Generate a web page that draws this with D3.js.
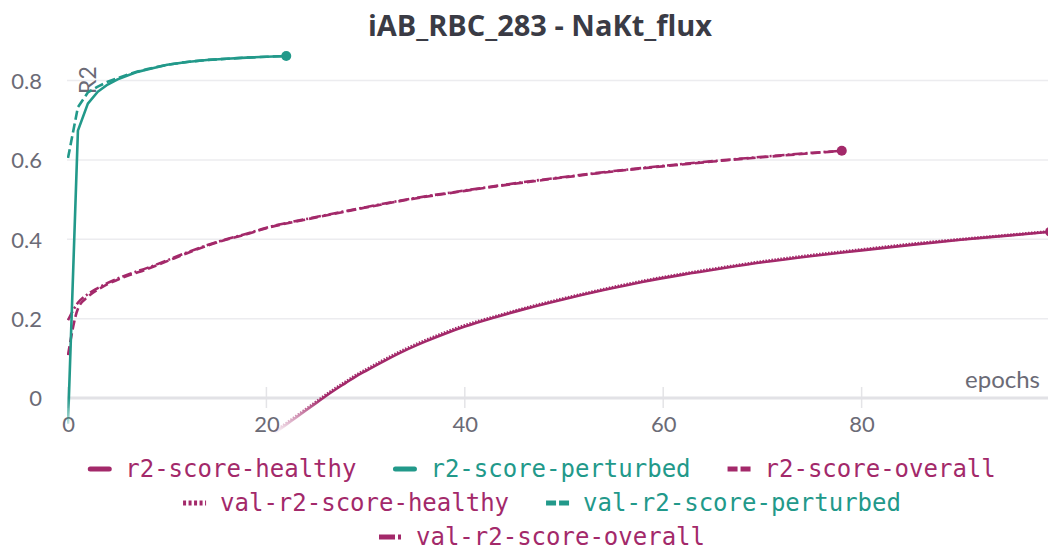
<!DOCTYPE html>
<html>
<head>
<meta charset="utf-8">
<script src="https://cdn.jsdelivr.net/npm/d3@7"></script>
<style>
html,body{margin:0;padding:0;background:#fff;}
svg{display:block;}
</style>
</head>
<body>
<svg id="chart" width="1048" height="550"></svg>
<script>
// ---- data ----
const title = "iAB_RBC_283 - NaKt_flux";
const xTicks = [0, 20, 40, 60, 80];
const yTicks = [0, 0.2, 0.4, 0.6, 0.8];
const yTickLabels = ["0", "0.2", "0.4", "0.6", "0.8"];

const healthyEpochs = [20,21,22,23,24,25,26,27,28,29,30,32,34,36,38,40,43,46,50,54,58,62,66,70,75,80,85,90,95,99];
const healthyTrain  = [-0.103,-0.085,-0.067,-0.049,-0.031,-0.013,0.005,0.022,0.038,0.054,0.068,0.095,0.120,0.142,0.162,0.180,0.203,0.224,0.249,0.272,0.293,0.311,0.327,0.342,0.358,0.372,0.386,0.399,0.410,0.419];
const healthyVal    = [-0.100,-0.082,-0.064,-0.046,-0.028,-0.010,0.008,0.025,0.041,0.057,0.071,0.098,0.123,0.145,0.165,0.183,0.205,0.226,0.251,0.274,0.295,0.313,0.329,0.344,0.360,0.374,0.388,0.400,0.411,0.420];

const perturbedEpochs = [0,1,2,3,4,5,6,7,8,10,12,14,16,18,20,22];
const perturbedTrain  = [-0.065,0.674,0.742,0.772,0.790,0.803,0.813,0.822,0.828,0.840,0.847,0.852,0.855,0.858,0.860,0.862];
const perturbedVal    = [0.605,0.733,0.770,0.785,0.797,0.806,0.815,0.823,0.829,0.840,0.847,0.852,0.855,0.858,0.860,0.862];

const overallEpochs = [0,1,2,3,4,5,6,8,10,12,15,18,20,25,30,35,40,45,50,55,60,65,70,75,78];
const overallTrain  = [0.108,0.225,0.255,0.273,0.287,0.298,0.308,0.325,0.345,0.365,0.392,0.413,0.428,0.455,0.480,0.503,0.522,0.540,0.556,0.571,0.584,0.596,0.607,0.617,0.623];
const overallVal    = [0.196,0.240,0.262,0.277,0.290,0.301,0.311,0.328,0.347,0.367,0.393,0.414,0.429,0.456,0.481,0.504,0.523,0.541,0.557,0.572,0.585,0.597,0.608,0.618,0.623];

const seriesNames = ["r2-score-healthy","r2-score-perturbed","r2-score-overall","val-r2-score-healthy","val-r2-score-perturbed","val-r2-score-overall"];

// ---- styles ----
const MAG = "#a3296a", TEAL = "#22998a";
const styles = {
  "r2-score-healthy":       {color: MAG,  dash: null},
  "r2-score-perturbed":     {color: TEAL, dash: null},
  "r2-score-overall":       {color: MAG,  dash: "9,4"},
  "val-r2-score-healthy":   {color: MAG,  dash: "1.5,1.5"},
  "val-r2-score-perturbed": {color: TEAL, dash: "9,4"},
  "val-r2-score-overall":   {color: MAG,  dash: "10,3,2,3"}
};
const seriesData = {
  "r2-score-healthy":       [healthyEpochs, healthyTrain],
  "r2-score-perturbed":     [perturbedEpochs, perturbedTrain],
  "r2-score-overall":       [overallEpochs, overallTrain],
  "val-r2-score-healthy":   [healthyEpochs, healthyVal],
  "val-r2-score-perturbed": [perturbedEpochs, perturbedVal],
  "val-r2-score-overall":   [overallEpochs, overallVal]
};

const svg = d3.select("#chart");
const FONT = "Lato, 'Open Sans', sans-serif";
const x = d3.scaleLinear().domain([0, 99]).range([68, 1050.1]);
const y = d3.scaleLinear().domain([0, 0.8]).range([398, 80.6]);
const left = 67, right = 1048, bottomClip = 436;

const defs = svg.append("defs");
defs.append("clipPath").attr("id","clip").append("rect")
  .attr("x", left).attr("y", 30).attr("width", right-left).attr("height", bottomClip-30);
const grad = defs.append("linearGradient").attr("id","fade")
  .attr("gradientUnits","userSpaceOnUse").attr("x1",0).attr("x2",0).attr("y1",0).attr("y2",550);
grad.append("stop").attr("offset", 398/550).attr("stop-color","#fff").attr("stop-opacity",1);
grad.append("stop").attr("offset", 434/550).attr("stop-color","#fff").attr("stop-opacity",0);
defs.append("mask").attr("id","mask").attr("maskUnits","userSpaceOnUse")
  .attr("x",0).attr("y",0).attr("width",1048).attr("height",550)
  .append("rect").attr("x",0).attr("y",0).attr("width",1048).attr("height",550).attr("fill","url(#fade)");

// title
svg.append("text").attr("x", 540).attr("y", 36).attr("text-anchor","middle")
  .attr("font-family", "'Open Sans', 'Noto Sans', sans-serif").attr("font-weight", 700).attr("font-size", 29)
  .attr("fill", "#3a3b45").text(title);

// grid
const gridG = svg.append("g");
gridG.selectAll("line.grid").data(yTicks.filter(d => d !== 0)).join("line")
  .attr("x1", left).attr("x2", right).attr("y1", d => y(d)).attr("y2", d => y(d))
  .attr("stroke", "#ececef").attr("stroke-width", 1.5);

// x-axis tick marks
gridG.selectAll("line.xt").data(xTicks).join("line")
  .attr("x1", d => x(d)).attr("x2", d => x(d)).attr("y1", 387).attr("y2", 408)
  .attr("stroke", "#e4e4e7").attr("stroke-width", 1.5);
// zero line
gridG.append("line").attr("x1", left).attr("x2", right).attr("y1", y(0)).attr("y2", y(0))
  .attr("stroke", "#e2e2e6").attr("stroke-width", 3);

// axes labels via d3 axes
const xAxis = d3.axisBottom(x).tickValues(xTicks).tickSize(0).tickPadding(0).tickFormat(d3.format("d"));
const xg = svg.append("g").attr("transform", "translate(0,416)").call(xAxis);
xg.select(".domain").remove();
xg.selectAll("text").attr("font-family", FONT).attr("font-size", 22).attr("fill", "#6b6b76").attr("dy", "0.71em").attr("y", 0);

const yAxis = d3.axisLeft(y).tickValues(yTicks).tickSize(0).tickPadding(0).tickFormat((d,i) => yTickLabels[i]);
const yg = svg.append("g").attr("transform", "translate(42,0)").call(yAxis);
yg.select(".domain").remove();
yg.selectAll("text").attr("font-family", FONT).attr("font-size", 22).attr("fill", "#6b6b76").attr("dy", "0.35em");

// axis titles
svg.append("text").attr("transform", "translate(96,80) rotate(-90)").attr("text-anchor","middle")
  .attr("font-family", FONT).attr("font-size", 23).attr("fill", "#6b6b76").text("R2");
svg.append("text").attr("x", 1040).attr("y", 388).attr("text-anchor","end")
  .attr("font-family", FONT).attr("font-size", 24).attr("fill", "#6b6b76").text("epochs");

// lines
const plot = svg.append("g").attr("clip-path","url(#clip)").append("g").attr("mask","url(#mask)");
const smooth = d3.line().x(d => x(d[0])).y(d => y(d[1])).curve(d3.curveMonotoneX);
const straight = d3.line().x(d => x(d[0])).y(d => y(d[1])).curve(d3.curveLinear);
const drawOrder = ["val-r2-score-overall","r2-score-overall","val-r2-score-healthy","r2-score-healthy","val-r2-score-perturbed","r2-score-perturbed"];
drawOrder.forEach(name => {
  const [ex, vals] = seriesData[name];
  const pts = ex.map((e,i) => [e, vals[i]]);
  const st = styles[name];
  const gen = name.includes("perturbed") ? straight : smooth;
  plot.append("path").datum(pts).attr("d", gen).attr("fill","none")
    .attr("stroke", st.color).attr("stroke-width", name.startsWith("val") && name.includes("healthy") ? 3 : 2.6)
    .attr("stroke-dasharray", st.dash).attr("stroke-linejoin","round");
});
["r2-score-overall","r2-score-healthy","r2-score-perturbed"].forEach(name => {
  const [ex, vals] = seriesData[name];
  const n = ex.length - 1;
  svg.append("circle").attr("cx", x(ex[n])).attr("cy", y(vals[n])).attr("r", 5)
    .attr("fill", styles[name].color);
});

// legend
const rows = [[0,1,2],[3,4],[5]];
const rowY = [469, 503, 537];
const LFONT = "'DejaVu Sans Mono', 'Liberation Mono', monospace";
const swW = 23, swGap = 14, itemGap = 37, centerX = 542;
const measure = svg.append("text").attr("font-family", LFONT).attr("font-size", 24).attr("opacity",0);
function tw(s){ measure.text(s); return measure.node().getComputedTextLength(); }
const lg = svg.append("g");
rows.forEach((row, ri) => {
  const widths = row.map(i => swW + swGap + tw(seriesNames[i]));
  const total = d3.sum(widths) + itemGap*(row.length-1);
  let cx = centerX - total/2;
  row.forEach((i, k) => {
    const name = seriesNames[i], st = styles[name];
    const yy = rowY[ri];
    let dash = null;
    if (name.startsWith("val") && name.includes("healthy")) dash = "3,2.5";
    else if (name.includes("overall") && name.startsWith("val")) dash = "16,3,3,3";
    else if (st.dash) dash = "10,3";
    const sw = lg.append("line").attr("x1", cx).attr("x2", cx + swW).attr("y1", yy).attr("y2", yy)
      .attr("stroke", st.color).attr("stroke-width", 5).attr("stroke-dasharray", dash);
    if (!dash) sw.attr("stroke-linecap","round").attr("x1", cx+2).attr("x2", cx+swW-2);
    lg.append("text").attr("x", cx + swW + swGap).attr("y", yy).attr("dy","0.35em")
      .attr("font-family", LFONT).attr("font-size", 24).attr("fill", st.color).text(name);
    cx += widths[k] + itemGap;
  });
});
measure.remove();
</script>
</body>
</html>
